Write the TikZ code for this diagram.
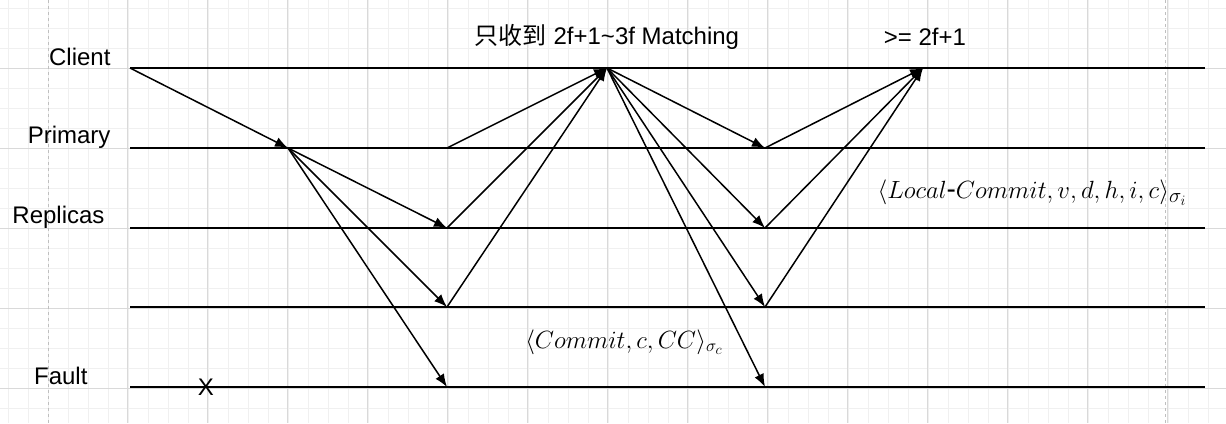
\documentclass[tikz,border=0pt]{standalone}
\usepackage{fontspec}
\setmainfont{Liberation Sans}
\newfontfamily\cjk{Noto Sans CJK SC}
\usetikzlibrary{arrows.meta}
\begin{document}
\begin{tikzpicture}[x=1pt,y=-1pt,>={Latex[length=13pt,width=10pt]},
  lane/.style={line width=1.8pt},
  msg/.style={->,line width=1.5pt},
  who/.style={font=\fontsize{24}{28}\selectfont,anchor=east}]
\useasboundingbox (0,0) rectangle (1226,423);
\foreach \x in {8,28,...,1226}\draw[black!6] (\x,0) -- (\x,423);
\foreach \y in {8,28,...,423}\draw[black!6] (0,\y) -- (1226,\y);
\foreach \x in {127,207,...,1226}\draw[black!15] (\x,0) -- (\x,423);
\foreach \y in {68,148,...,423}\draw[black!15] (0,\y) -- (1226,\y);
\draw[black!25,dashed,line width=1pt] (48,0) -- (48,423);
\draw[black!25,dashed,line width=1pt] (1165,0) -- (1165,423);
% lanes
\foreach \y/\n in {68/c,148/p,228/r,307/s,387/f}\draw[lane] (130,\y) coordinate (\n0) -- (1205,\y);
\node[who] at (114,57) {Client};
\node[who] at (114,137) {Primary};
\node[who] at (108,217) {Replicas};
\node[who] at (91,376) {Fault};
\node at (206,387) {\fontsize{24}{28}\selectfont X};
% points
\coordinate (p1) at (288,148);
\coordinate (p2) at (447,148);
\coordinate (r1) at (447,228);
\coordinate (s1) at (447,307);
\coordinate (f1) at (447,387);
\coordinate (c1) at (607,68);
\coordinate (p3) at (765,148);
\coordinate (r2) at (765,228);
\coordinate (s2) at (765,307);
\coordinate (f2) at (765,387);
\coordinate (c2) at (923,68);
% messages
\draw[msg] (c0) -- (p1);
\foreach \t in {r1,s1,f1}\draw[msg] (p1) -- (\t);
\foreach \s in {p2,r1,s1}\draw[msg] (\s) -- (c1);
\foreach \t in {p3,r2,s2,f2}\draw[msg] (c1) -- (\t);
\foreach \s in {p3,r2,s2}\draw[msg] (\s) -- (c2);
% labels
\node at (607,37) {\fontsize{24}{28}\selectfont{\cjk 只收到} 2f+1\textasciitilde3f Matching};
\node at (925,37) {\fontsize{24}{28}\selectfont >= 2f+1};
\node at (1032,193) {\fontsize{28}{32}\selectfont $\langle Local\mbox{-}Commit,v,d,h,i,c\rangle_{\sigma_i}$};
\node at (624,342) {\fontsize{27}{32}\selectfont $\langle Commit,c,CC\rangle_{\sigma_c}$};
\end{tikzpicture}
\end{document}
